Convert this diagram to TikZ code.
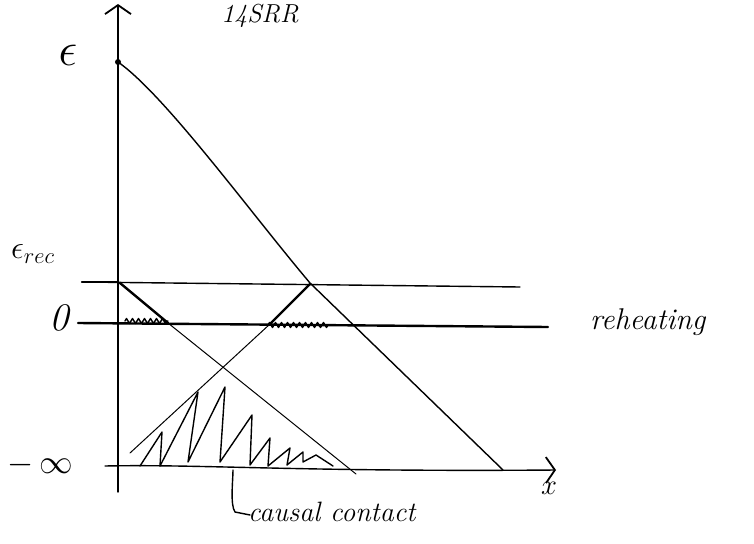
\documentclass[tikz,border=0pt]{standalone}
\usepackage{graphicx}
\usetikzlibrary{arrows.meta,decorations.pathmorphing}
\begin{document}
\begin{tikzpicture}[x=1pt,y=-1pt,line cap=round,line join=round,
  ink/.style={draw=black,line width=1.4pt},
  thinink/.style={draw=black,line width=1.0pt},
  thickink/.style={draw=black,line width=2.4pt},
  lbl/.style={font=\itshape\fontsize{26}{28}\selectfont,inner sep=0pt},
  axtip/.style={-{Straight Barb[length=9pt,width=26pt,line width=1.8pt]}},
  wiggle/.style={decorate,decoration={zigzag,segment length=6pt,amplitude=2.5pt}}]
\useasboundingbox (0,0) rectangle (754,543);
% coordinates
\coordinate (O) at (118,492);
\coordinate (Ytop) at (118,4);
\coordinate (Xl) at (105,466);
\coordinate (Xr) at (556,470);
\coordinate (E0) at (118,62);
\coordinate (Eend) at (503,470);
\coordinate (Rl) at (82,282);
\coordinate (Rr) at (520,287);
\coordinate (Zl) at (78,323);
\coordinate (Zr) at (548,327);
\coordinate (A) at (120,283);
\coordinate (A1) at (168,323);
\coordinate (A2) at (356,474);
\coordinate (B) at (310,284);
\coordinate (B1) at (270,324);
\coordinate (B2) at (130,453);
\coordinate (P) at (233,470);
\coordinate (P1) at (235,512);
\coordinate (P2) at (250,515);
% axes
\draw[ink,axtip] (O) -- (Ytop);
\draw[ink,axtip] (Xl) .. controls (200,464) and (300,472) .. (Xr);
% top text
\node[lbl,font=\itshape\fontsize{26}{28}\selectfont,anchor=north] (topt) at (260,4) {14SRR};
% labels
\node[lbl] (eps) at (68,55) {\scalebox{1.9}{$\epsilon$}};
\node[lbl] (erec) at (33,254) {\scalebox{1.3}{$\epsilon_{rec}$}};
\node[lbl] (zero) at (59,318) {\scalebox{1.5}{0}};
\node[lbl] (minf) at (40,465) {\scalebox{1.35}{$-\,\infty$}};
\node[lbl] (xl) at (549,488) {\scalebox{1.15}{$x$}};
\node[lbl,font=\itshape\fontsize{30}{32}\selectfont,anchor=west] (reh) at (590,322) {reheating};
\node[lbl,font=\itshape\fontsize{28}{30}\selectfont,anchor=west] (cc) at (248,512) {causal contact};
% main descending line
\fill (E0) circle (3pt);
\draw[ink] (E0) .. controls (165,95) and (250,212) .. (310,283) -- (Eend);
% horizontal lines
\draw[ink] (Rl) -- (Rr);
\draw[thickink] (Rl) -- (118,282);
\draw[thickink] (Zl) -- (Zr);
% light cones
\draw[thickink] (A) -- (A1);
\draw[thinink] (A1) -- (A2);
\draw[thickink] (B) -- (B1);
\draw[thinink] (B1) -- (B2);
% wiggles on 0 line
\draw[ink,wiggle] (125,321) -- (168,321);
\draw[ink,wiggle] (268,325) -- (328,325);
% big wiggle
\draw[ink] (140,466) -- (162,432) -- (160,466) -- (198,392) -- (188,462)
  -- (225,387) -- (220,462) -- (252,415) -- (250,465) -- (270,438)
  -- (268,466) -- (290,448) -- (287,465) -- (303,452) -- (303,462)
  -- (316,455) -- (333,466);
% pointer
\draw[ink] (P) .. controls (233,480) and (230,505) .. (P1) -- (P2);
\end{tikzpicture}
\end{document}
